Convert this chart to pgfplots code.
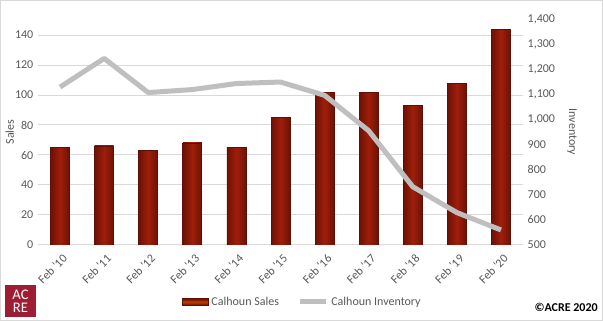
\documentclass[border=0pt]{standalone}
\usepackage{pgfplots}
\pgfplotsset{compat=1.18}
\usepackage{fontspec}
\setmainfont{Carlito}
\definecolor{tick}{RGB}{89,89,89}
\definecolor{gridc}{RGB}{217,217,217}
\definecolor{inv}{RGB}{191,191,191}
\definecolor{barmid}{RGB}{160,30,10}
\definecolor{baredge}{RGB}{108,18,6}
\definecolor{barline}{RGB}{95,15,5}
\definecolor{logo}{RGB}{158,28,52}
\begin{document}
\begin{tikzpicture}
\useasboundingbox (0pt,0pt) rectangle (452.25pt,240.75pt);
\fill[white] (0pt,0pt) rectangle (452.25pt,240.75pt);
\draw[gridc, line width=0.75pt] (0.375pt,0.375pt) rectangle (451.875pt,240.375pt);
\pgfplotsset{
 common/.style={
  at={(28.5pt,57pt)}, anchor=south west, scale only axis,
  width=363.75pt, height=169.5pt,
  xmin=-0.5, xmax=10.5,
  axis line style={draw=none},
  major tick style={draw=none},
  tick label style={font=\fontsize{9}{10}\selectfont, text=tick},
  label style={font=\fontsize{9}{10}\selectfont, text=tick},
  /pgf/number format/assume math mode=true,
  /pgf/number format/1000 sep={,},
 },
 barsty/.style={ybar, bar shift=0pt, bar width=14.25pt, draw=barline, line width=0.5pt,
   left color=baredge, right color=baredge, middle color=barmid, forget plot},
}
\begin{axis}[common,
  ymin=0, ymax=150.67, ytick={0,20,...,140},
  ymajorgrids, grid style={gridc, line width=0.75pt},
  xtick={0,...,10},
  xticklabels={Feb \textquotesingle10,Feb \textquotesingle11,Feb \textquotesingle12,Feb \textquotesingle13,Feb \textquotesingle14,Feb \textquotesingle15,Feb \textquotesingle16,Feb \textquotesingle17,Feb \textquotesingle18,Feb \textquotesingle19,Feb \textquotesingle20},
  xticklabel style={rotate=45, anchor=north east, yshift=-2pt},
  ylabel={Sales},
  ylabel style={at={(axis description cs:-0.058,0.5)}, anchor=center},
]
\addplot[barsty] coordinates {(0,65)};
\addplot[barsty] coordinates {(1,66)};
\addplot[barsty] coordinates {(2,63)};
\addplot[barsty] coordinates {(3,68)};
\addplot[barsty] coordinates {(4,65)};
\addplot[barsty] coordinates {(5,85)};
\addplot[barsty] coordinates {(6,102)};
\addplot[barsty] coordinates {(7,102)};
\addplot[barsty] coordinates {(8,93)};
\addplot[barsty] coordinates {(9,108)};
\addplot[barsty] coordinates {(10,144)};
\end{axis}
\begin{axis}[common,
  ymin=500, ymax=1400, ytick={500,600,...,1400},
  yticklabel pos=right,
  xtick=\empty,
  ylabel={Inventory},
  ylabel style={at={(axis description cs:1.101,0.5)}, anchor=center, rotate=180},
  legend style={at={(0.546,-0.252)}, anchor=center, draw=none, fill=none,
    legend columns=2, font=\fontsize{9}{10}\selectfont, text=tick,
    /tikz/every even column/.append style={column sep=12pt}},
]
\addlegendimage{legend image code/.code={\draw[draw=barline, top color=baredge, bottom color=baredge, middle color=barmid!70!orange] (0pt,-2.5pt) rectangle (19.5pt,2.5pt);}}
\addlegendentry{Calhoun Sales}
\addplot[inv, line width=3.75pt, line join=round,
  legend image code/.code={\draw[inv, line width=3.75pt] (0pt,0pt) -- (19.5pt,0pt);}]
 coordinates {(0,1129) (1,1243) (2,1107) (3,1119) (4,1143) (5,1149) (6,1096) (7,955) (8,732) (9,629) (10,560)};
\addlegendentry{Calhoun Inventory}
\end{axis}
\fill[logo] (3.75pt,3pt) rectangle (27pt,27pt);
\node[white, font=\fontsize{11}{10}\selectfont, align=center, inner sep=0pt] at (15.4pt,15pt) {AC\\RE};
\node[anchor=east, font=\bfseries\fontsize{9}{10}\selectfont, inner sep=0pt] at (448.5pt,10pt) {©ACRE 2020};
\end{tikzpicture}
\end{document}
